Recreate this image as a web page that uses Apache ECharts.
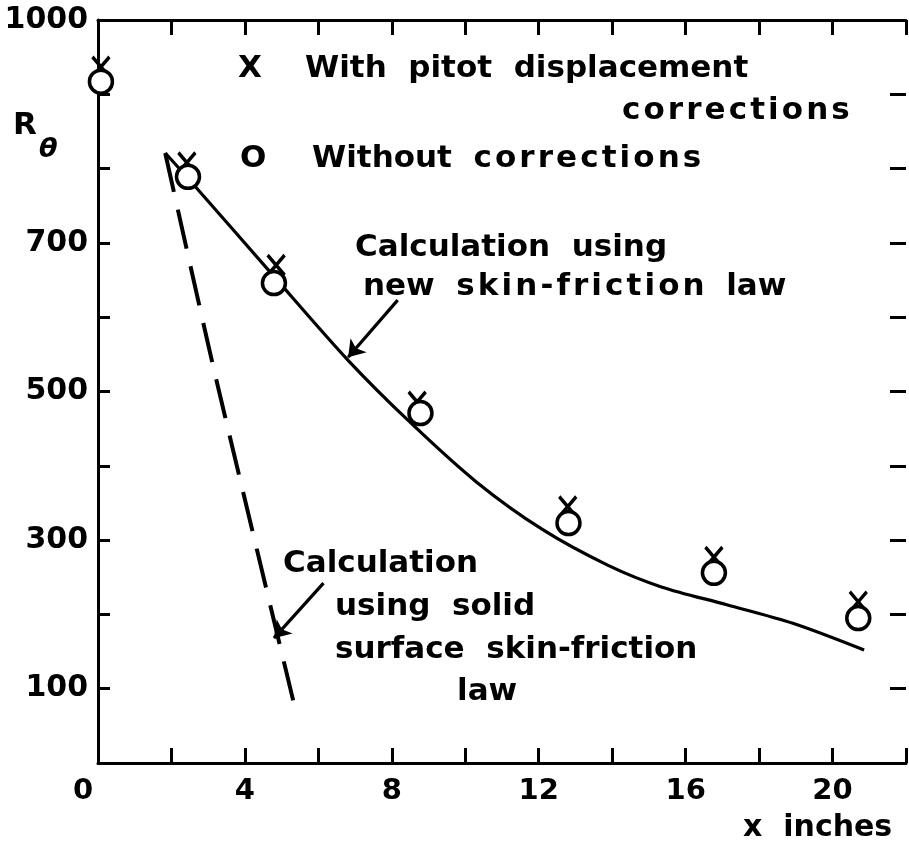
<!DOCTYPE html>
<html>
<head>
<meta charset="utf-8">
<script src="https://cdn.jsdelivr.net/npm/echarts@6/dist/echarts.min.js"></script>
<style>
html, body { margin: 0; padding: 0; background: #fff; }
#chart { width: 909px; height: 844px; }
</style>
</head>
<body>
<div id="chart"></div>
<script>
// points (x in inches, R theta)
var withCorrX = [0.08, 2.42, 4.85, 8.69, 12.79, 16.77, 20.70];
var withCorrY = [937, 808, 670, 486, 345, 277, 217];
var noCorrX = [0.08, 2.45, 4.79, 8.78, 12.81, 16.77, 20.70];
var noCorrY = [917, 789, 646, 471, 323, 256, 195];

// calculation, new skin-friction law (solid)
var newLawX = [1.83, 2.45, 4.79, 6.81, 8.51, 10.31, 12.11, 13.89, 15.34, 17.12, 18.92, 20.86];
var newLawY = [821, 787, 655, 542, 458, 378, 314, 266, 237, 213, 188, 152];

// calculation, solid surface law (dashed)
var solidLawX = [1.83, 3.14, 5.33];
var solidLawY = [821, 533, 81];

// annotation arrows [tail, head]
var arrowNew = [[8.16, 623], [6.81, 546]];
var arrowSolid = [[6.14, 242], [4.79, 168]];

var xLabels = [0, 4, 8, 12, 16, 20];
var yLabels = [100, 300, 500, 700, 1000];

var FONT = '"DejaVu Sans", sans-serif';

function pairs(xs, ys) {
  var out = [];
  for (var i = 0; i < xs.length; i++) out.push([xs[i], ys[i]]);
  return out;
}

// hair spaces between letters, the lettering on the figure is spaced out
function spaced(str) {
  return str.split('').join('\u200A');
}

function txt(str, left, midY, size, style) {
  return {
    type: 'text', left: left, top: midY - size * 0.45, silent: true,
    style: {
      text: str, fill: '#000',
      font: (style || 'bold') + ' ' + size + 'px ' + FONT
    }
  };
}

var axisLine = { onZero: false, lineStyle: { color: '#000', width: 3 } };

var chart = echarts.init(document.getElementById('chart'));

var option = {
  animation: false,
  backgroundColor: '#fff',
  grid: { left: 98, right: -6, top: 20, bottom: 81 },
  xAxis: [{
    type: 'value', min: 0, max: 22, interval: 2, position: 'bottom',
    axisLine: axisLine,
    axisTick: { inside: true, length: 15, lineStyle: { color: '#000', width: 3 } },
    splitLine: { show: false },
    axisLabel: {
      margin: 14, color: '#000', fontFamily: FONT, fontWeight: 'bold', fontSize: 29,
      formatter: function (v) {
        if (xLabels.indexOf(v) < 0) return '';
        return v === 0 ? '{z|0}' : String(v);
      },
      rich: { z: { fontFamily: FONT, fontWeight: 'bold', fontSize: 29, padding: [0, 30, 0, 0] } }
    }
  }, {
    type: 'value', min: 0, max: 22, interval: 2, position: 'top',
    axisLine: axisLine,
    axisTick: { inside: true, length: 15, lineStyle: { color: '#000', width: 3 } },
    axisLabel: { show: false },
    splitLine: { show: false }
  }],
  yAxis: [{
    type: 'value', min: 0, max: 1000, interval: 100, position: 'left',
    axisLine: { show: true, onZero: false, lineStyle: { color: '#000', width: 3 } },
    axisTick: { inside: true, length: 12, lineStyle: { color: '#000', width: 3 } },
    splitLine: { show: false },
    axisLabel: {
      margin: 10, color: '#000', fontFamily: FONT, fontWeight: 'bold', fontSize: 30,
      formatter: function (v) { return yLabels.indexOf(v) >= 0 ? String(v) : ''; }
    }
  }, {
    type: 'value', min: 0, max: 1000, interval: 100, position: 'right',
    axisLine: { show: false, onZero: false },
    axisTick: { show: true, inside: true, length: 16, lineStyle: { color: '#000', width: 3 } },
    axisLabel: { show: false },
    splitLine: { show: false }
  }],
  series: [
    {
      name: 'new law', type: 'line', data: pairs(newLawX, newLawY),
      smooth: 0.3, symbol: 'none', z: 2,
      lineStyle: { color: '#000', width: 3.2 }
    },
    {
      name: 'solid surface law', type: 'line', data: pairs(solidLawX, solidLawY),
      smooth: 0.2, symbol: 'none', z: 2,
      lineStyle: { color: '#000', width: 4, type: [40, 18] }
    },
    {
      name: 'arrows', type: 'lines', coordinateSystem: 'cartesian2d', silent: true, z: 3,
      symbol: ['none', 'arrow'], symbolSize: 16,
      lineStyle: { color: '#000', width: 3.2, opacity: 1, curveness: 0 },
      data: [{ coords: arrowNew }, { coords: arrowSolid }]
    },
    {
      name: 'With pitot displacement corrections', type: 'scatter',
      data: pairs(withCorrX, withCorrY), z: 4,
      symbol: 'path://M0,0L14,16M14,0L0,16', symbolSize: [17, 20],
      itemStyle: { color: 'none', borderColor: '#000', borderWidth: 3.5, opacity: 1 }
    },
    {
      name: 'Without corrections', type: 'scatter',
      data: pairs(noCorrX, noCorrY), z: 5,
      symbol: 'circle', symbolSize: 23,
      itemStyle: { color: '#fff', borderColor: '#000', borderWidth: 3.5, opacity: 1 }
    }
  ],
  graphic: [
    txt('R', 13, 124, 31),
    txt('\u03b8', 39, 149, 27, 'italic bold'),
    txt('X', 238, 67, 31),
    txt('With  pitot  displacement', 305, 67, 31),
    txt(spaced('corrections'), 622, 109, 31),
    txt('O', 240, 157, 31),
    txt('Without  ' + spaced('corrections'), 312, 157, 31),
    txt('Calculation  using', 355, 246, 31),
    txt('new  ' + spaced('skin-friction') + '  law', 363, 285, 31),
    txt('Calculation', 283, 562, 31),
    txt('using  solid', 335, 605, 31),
    txt('surface  skin-friction', 335, 648, 31),
    txt('law', 457, 690, 31),
    txt('x  inches', 743, 827, 30)
  ]
};

chart.setOption(option);
</script>
</body>
</html>
